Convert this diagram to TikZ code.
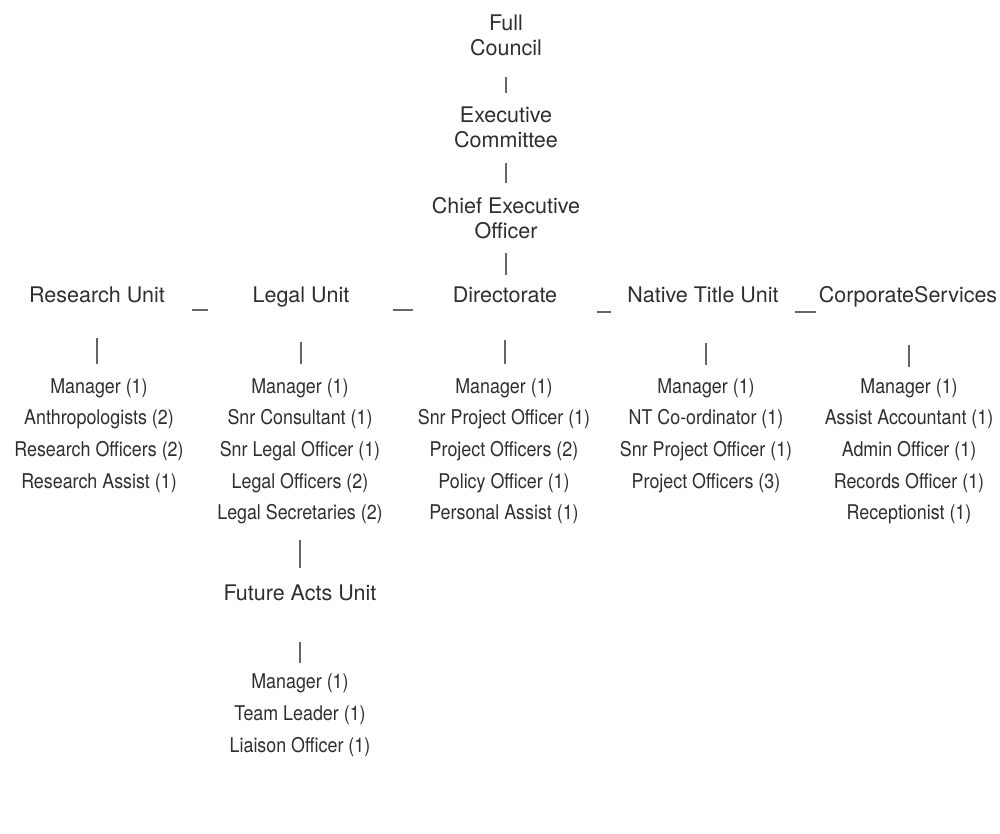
\documentclass[tikz,border=0pt]{standalone}
\usepackage{fontspec}
\setmainfont{TeX Gyre Heros}
\newfontfamily\narrowfont[FakeStretch=0.88]{TeX Gyre Heros}
\definecolor{ink}{HTML}{2E2E2E}
\definecolor{linkc}{HTML}{666666}
\tikzset{
  base/.style={inner sep=0pt, anchor=base, text height=15pt, text depth=4pt, text=ink},
  head/.style={base, font=\fontsize{21.5}{26}\selectfont},
  item/.style={base, font=\narrowfont\fontsize{20.3}{24}\selectfont},
  link/.style={draw=linkc, line width=1.3pt},
}
\begin{document}
\begin{tikzpicture}[x=1pt,y=-1pt]
\useasboundingbox (0,0) rectangle (1000,833);
% top chain
\node[head] (fc1) at (506,30) {Full};
\node[head] (fc2) at (506,55) {Council};
\node[head] (ec1) at (506,122) {Executive};
\node[head] (ec2) at (506,147) {Committee};
\node[head] (ceo1) at (506,213) {Chief Executive};
\node[head] (ceo2) at (506,238) {Officer};
% units
\node[head] (ru) at (97,302) {Research Unit};
\node[head] (lu) at (301,302) {Legal Unit};
\node[head] (du) at (505,302) {Directorate};
\node[head] (nu) at (703,302) {Native Title Unit};
\node[head] (cu) at (908,302) {CorporateServices};
% lists
\foreach \t [count=\i] in {{Manager (1)},{Anthropologists (2)},{Research Officers (2)},{Research Assist (1)}}
  \node[item] (r\i) at (99,{393+31.67*(\i-1)}) {\t};
\foreach \t [count=\i] in {{Manager (1)},{Snr Consultant (1)},{Snr Legal Officer (1)},{Legal Officers (2)},{Legal Secretaries (2)}}
  \node[item] (l\i) at (300,{393+31.67*(\i-1)}) {\t};
\foreach \t [count=\i] in {{Manager (1)},{Snr Project Officer (1)},{Project Officers (2)},{Policy Officer (1)},{Personal Assist (1)}}
  \node[item] (d\i) at (504,{393+31.67*(\i-1)}) {\t};
\foreach \t [count=\i] in {{Manager (1)},{NT Co-ordinator (1)},{Snr Project Officer (1)},{Project Officers (3)}}
  \node[item] (n\i) at (706,{393+31.67*(\i-1)}) {\t};
\foreach \t [count=\i] in {{Manager (1)},{Assist Accountant (1)},{Admin Officer (1)},{Records Officer (1)},{Receptionist (1)}}
  \node[item] (c\i) at (909,{393+31.67*(\i-1)}) {\t};
% future acts
\node[head] (fa) at (300,600) {Future Acts Unit};
\foreach \t [count=\i] in {{Manager (1)},{Team Leader (1)},{Liaison Officer (1)}}
  \node[item] (f\i) at (300,{688+32*(\i-1)}) {\t};
% vertical links
\draw[link, shorten <=18pt, shorten >=14pt] (fc2.south) -- (ec1.north);
\draw[link, shorten <=12pt, shorten >=15pt] (ec2.south) -- (ceo1.north);
\draw[link, shorten <=11pt, shorten >=12pt] (ceo2.south) -- (ceo2.south |- du.north);
\draw[link, shorten <=32pt, shorten >=14pt] (ru.south) -- (ru.south |- r1.north);
\draw[link, shorten <=36pt, shorten >=14pt] (lu.south) -- (lu.south |- l1.north);
\draw[link, shorten <=34pt, shorten >=14pt] (du.south) -- (du.south |- d1.north);
\draw[link, shorten <=37pt, shorten >=13pt] (n1.north |- nu.south) -- (n1.north);
\draw[link, shorten <=39pt, shorten >=11pt] (c1.north |- cu.south) -- (c1.north);
\draw[link, shorten <=16pt, shorten >=17pt] (l5.south) -- (fa.north);
\draw[link, shorten <=38pt, shorten >=10pt] (fa.south) -- (f1.north);
% horizontal dashes between units
\coordinate (h1a) at (192,310); \coordinate (h1b) at (208,310);
\coordinate (h2a) at (393,310); \coordinate (h2b) at (413,310);
\coordinate (h3a) at (597,312); \coordinate (h3b) at (611,312);
\coordinate (h4a) at (795,312); \coordinate (h4b) at (816,312);
\draw[link] (h1a) -- (h1b);
\draw[link] (h2a) -- (h2b);
\draw[link] (h3a) -- (h3b);
\draw[link] (h4a) -- (h4b);
\end{tikzpicture}
\end{document}
